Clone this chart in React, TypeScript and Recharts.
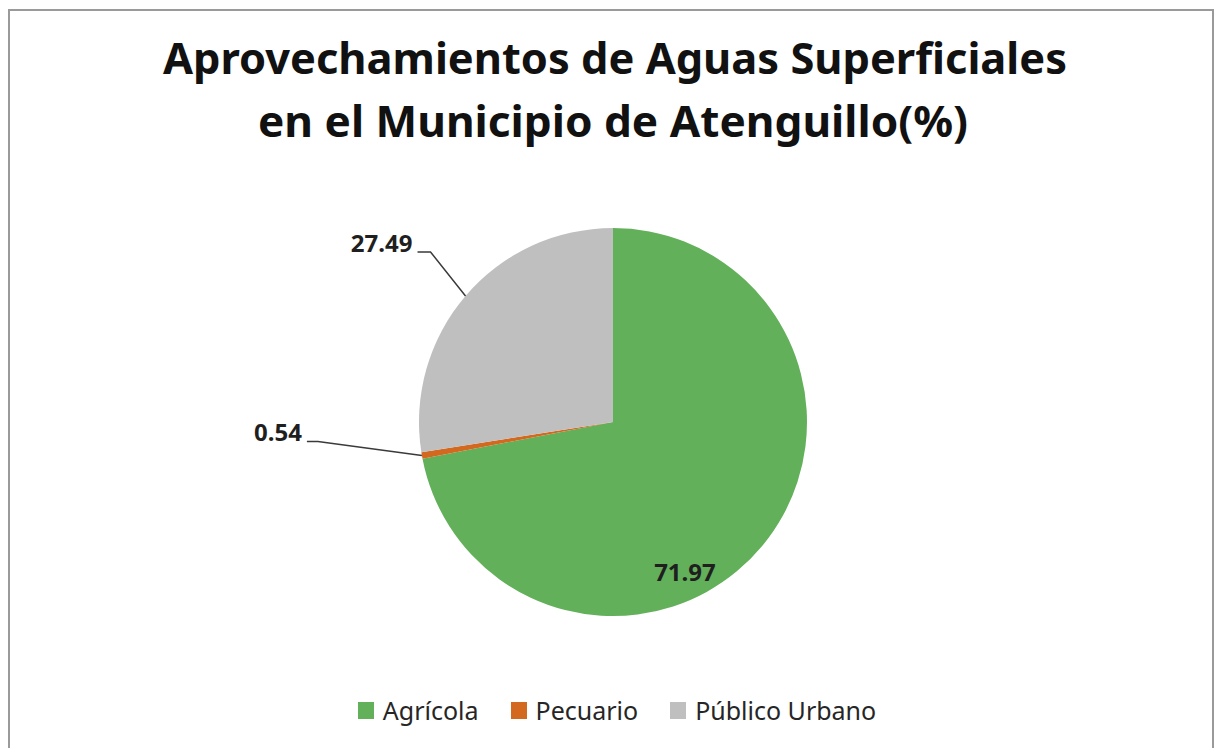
import React from "react";
import { PieChart, Pie, Cell, Legend } from "recharts";

const categories = ["Agrícola", "Pecuario", "Público Urbano"];
const values = [71.97, 0.54, 27.49];
const valueLabels = ["71.97", "0.54", "27.49"];
const colors = ["#63B05B", "#D2691E", "#BFBFBF"];
const titleLines = ["Aprovechamientos de Aguas Superficiales", "en el Municipio de Atenguillo(%)"];

const data = categories.map((name, i) => ({ name, value: values[i], label: valueLabels[i] }));

const W = 1218;
const H = 748;
const RAD = Math.PI / 180;

// label layout: inside label offset (fraction of radius) or outside elbow offsets (px)
const LABEL_LAYOUT: any[] = [
  { inside: true, fx: 0.371, fy: 0.778 },
  { inside: false, ex: -104, ey: -14, hx: -11 },
  { inside: false, ex: -35, ey: -44, hx: -13 },
];

const renderLabel = (props: any) => {
  const { cx, cy, midAngle, outerRadius, index } = props;
  const lay = LABEL_LAYOUT[index];
  const txt = valueLabels[index];
  const style = { fontFamily: "'Noto Sans', sans-serif", fontWeight: 700, fontSize: 24, fill: "#1f1f1f" };
  if (lay.inside) {
    const x = cx + lay.fx * outerRadius;
    const y = cy + lay.fy * outerRadius;
    return (
      <text x={x} y={y + 8} textAnchor="middle" style={style}>
        {txt}
      </text>
    );
  }
  const px = cx + outerRadius * Math.cos(-midAngle * RAD);
  const py = cy + outerRadius * Math.sin(-midAngle * RAD);
  const ex = px + lay.ex;
  const ey = py + lay.ey;
  const hx = ex + lay.hx;
  return (
    <g>
      <polyline points={`${px},${py} ${ex},${ey} ${hx},${ey}`} fill="none" stroke="#3a3a3a" strokeWidth={1.5} />
      <text x={hx - 5} y={ey} textAnchor="end" style={style}>
        {txt}
      </text>
    </g>
  );
};

const renderLegend = (props: any) => {
  const payload = props.payload || [];
  return (
    <div style={{ display: "flex", justifyContent: "center", alignItems: "center", gap: 32, paddingLeft: 16 }}>
      {payload.map((p: any, i: number) => (
        <div key={i} style={{ display: "flex", alignItems: "center" }}>
          <span style={{ display: "inline-block", width: 16, height: 17, background: p.color, marginRight: 9 }} />
          <span style={{ fontFamily: "'Noto Sans', sans-serif", fontSize: 25, color: "#262626", lineHeight: "26px" }}>
            {p.value}
          </span>
        </div>
      ))}
    </div>
  );
};

export default function App() {
  return (
    <div style={{ position: "absolute", left: 0, top: 0, width: W, height: H, overflow: "hidden", background: "#fff" }}>
      <div
        style={{
          position: "absolute",
          left: 8,
          top: 9,
          width: 1206,
          height: 780,
          border: "2px solid #9a9a9a",
          boxSizing: "border-box",
        }}
      />
      <svg width={W} height={170} style={{ position: "absolute", left: 0, top: 0 }}>
        <text
          x={615}
          y={74}
          textAnchor="middle"
          textLength={904}
          lengthAdjust="spacingAndGlyphs"
          style={{ fontFamily: "'Noto Sans', sans-serif", fontWeight: 700, fontSize: 43, fill: "#111" }}
        >
          {titleLines[0]}
        </text>
        <text
          x={613}
          y={137}
          textAnchor="middle"
          textLength={710}
          lengthAdjust="spacingAndGlyphs"
          style={{ fontFamily: "'Noto Sans', sans-serif", fontWeight: 700, fontSize: 43, fill: "#111" }}
        >
          {titleLines[1]}
        </text>
      </svg>
      <div style={{ position: "absolute", left: 0, top: 0 }}>
        <PieChart width={W} height={H} margin={{ top: 0, right: 0, bottom: 0, left: 0 }}>
          <Pie
            data={data}
            dataKey="value"
            nameKey="name"
            cx={613}
            cy={422}
            outerRadius={194}
            startAngle={90}
            endAngle={-270}
            stroke="none"
            isAnimationActive={false}
            labelLine={false}
            label={renderLabel}
          >
            {data.map((d, i) => (
              <Cell key={d.name} fill={colors[i]} />
            ))}
          </Pie>
          <Legend
            content={renderLegend}
            verticalAlign="bottom"
            wrapperStyle={{ position: "absolute", top: 697, left: 0, width: W, bottom: "auto" }}
          />
        </PieChart>
      </div>
    </div>
  );
}
